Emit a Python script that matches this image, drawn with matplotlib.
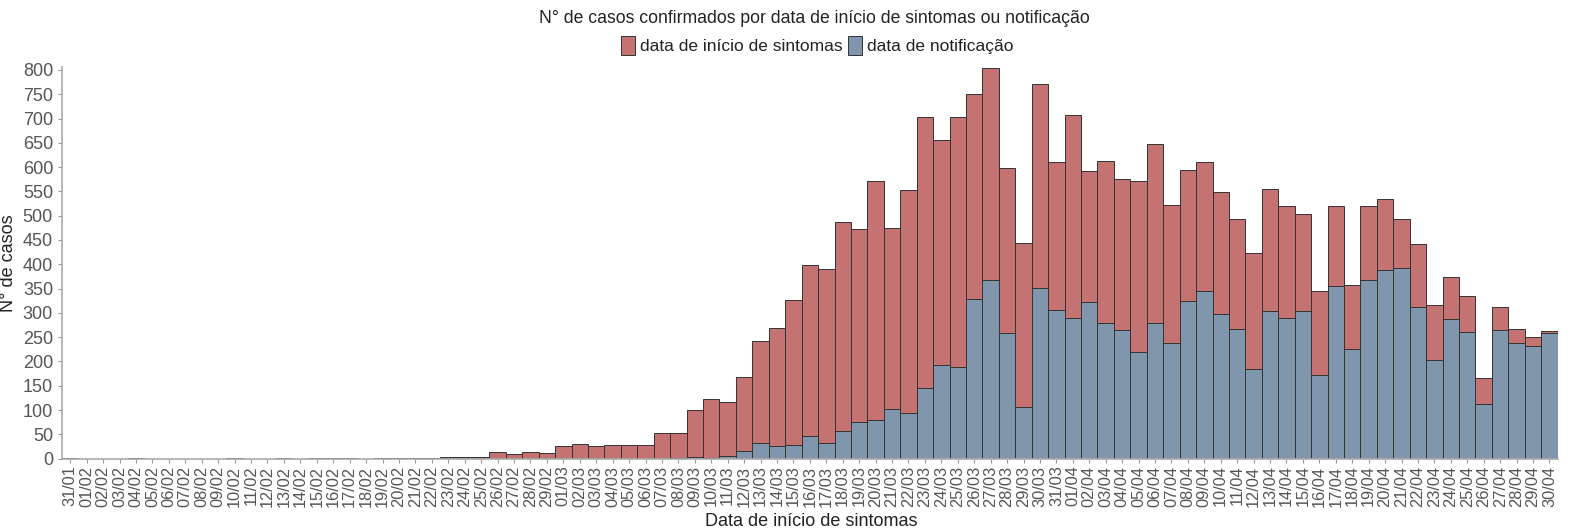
import matplotlib
matplotlib.use('Agg')
import matplotlib.pyplot as plt
import numpy as np
import pandas as pd

plt.rcParams['font.family'] = ['Liberation Sans', 'DejaVu Sans']

# dias de 31/01 a 30/04
datas = pd.date_range('2020-01-31', '2020-04-30').strftime('%d/%m').tolist()

inicio_sintomas = [
    1, 0, 0, 0, 1, 0, 0, 0, 0, 0, 1, 0, 0, 1, 0, 1, 1, 1, 0, 1,
    2, 2, 2, 4, 3, 4, 14, 9, 14, 11,
    25, 30, 25, 27, 27, 27, 52, 52, 99, 122, 116, 167, 242, 268, 326, 399,
    391, 488, 472, 572, 475, 553, 703, 656, 703, 750, 805, 598, 444, 771, 610,
    707, 591, 613, 575, 572, 648, 521, 595, 610, 548, 494, 424, 555, 519, 504,
    344, 519, 358, 519, 535, 494, 441, 316, 374, 335, 166, 313, 266, 250, 262,
]

notificacao = [
    0, 0, 0, 0, 0, 0, 0, 0, 0, 0, 0, 0, 0, 0, 0, 0, 0, 0, 0, 0,
    0, 0, 0, 0, 0, 0, 0, 0, 0, 0,
    0, 0, 0, 0, 0, 0, 0, 1, 3, 1, 5, 15, 32, 25, 28, 47,
    32, 57, 75, 80, 103, 94, 145, 193, 189, 328, 368, 258, 107, 352, 305,
    290, 322, 280, 265, 220, 280, 238, 324, 345, 298, 267, 184, 303, 290, 303,
    173, 356, 226, 368, 388, 392, 312, 202, 288, 261, 113, 265, 238, 232, 258,
]

cor_sint = '#c47272'
cor_notif = '#7f96ad'
cinza = '#555555'

x = np.arange(len(datas))

fig = plt.figure(figsize=(15.75, 5.32), dpi=100)
ax = fig.add_axes([0.0394, 0.138, 0.9496, 0.736])

ax.bar(x, inicio_sintomas, width=1.0, color=cor_sint, edgecolor='#333333',
       linewidth=0.7, label='data de início de sintomas')
ax.bar(x, notificacao, width=1.0, color=cor_notif, edgecolor='#333333',
       linewidth=0.7, label='data de notificação')

ax.set_xlim(-0.5, len(datas) - 0.5)
ax.set_ylim(0, 806)
ax.set_yticks(range(0, 801, 50))
ax.set_xticks(x)
ax.set_xticklabels(datas, rotation=90)

ax.tick_params(axis='y', labelsize=13, colors='#999999', labelcolor=cinza, length=3)
ax.tick_params(axis='x', labelsize=11.8, colors='#999999', labelcolor=cinza, length=3, pad=2)

for s in ['top', 'right']:
    ax.spines[s].set_visible(False)
for s in ['left', 'bottom']:
    ax.spines[s].set_color('#aaaaaa')
    ax.spines[s].set_linewidth(1.2)

ax.set_ylabel('N° de casos', fontsize=13, color='#222222', labelpad=4)
fig.text(0.515, 0.02, 'Data de início de sintomas', ha='center', va='center',
         fontsize=13, color='#222222')

fig.text(0.517, 0.965, 'N° de casos confirmados por data de início de sintomas ou notificação',
         ha='center', va='center', fontsize=12.7, color='#222222')
ax.legend(loc='center', bbox_to_anchor=(0.505, 1.055), ncol=2, frameon=False,
          fontsize=12.5, handlelength=0.8, handleheight=1.3, handletextpad=0.3,
          columnspacing=0.3, labelcolor='#222222')

fig.savefig('out.png', dpi=100)
